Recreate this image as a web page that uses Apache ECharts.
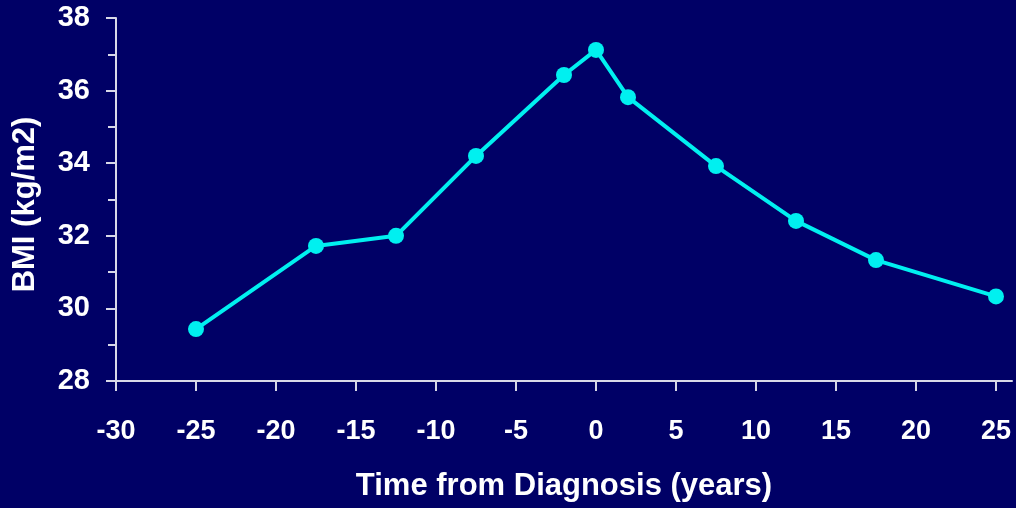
<!DOCTYPE html>
<html><head><meta charset="utf-8">
<script src="https://cdn.jsdelivr.net/npm/echarts@6/dist/echarts.min.js"></script>
<style>html,body{margin:0;padding:0;background:#000066;}#c{width:1016px;height:508px;}</style>
</head><body><div id="c"></div>
<script>
const years = [-25, -17.5, -12.5, -7.5, -2, 0, 2, 7.5, 12.5, 17.5, 25];
const bmi = [29.43, 31.72, 32.0, 34.2, 36.43, 37.12, 35.82, 33.92, 32.41, 31.33, 30.33];
const xTitle = 'Time from Diagnosis (years)';
const yTitle = 'BMI (kg/m2)';

const font = '"Liberation Sans", Arial, sans-serif';
const axisCol = '#d8d8e8';
const chart = echarts.init(document.getElementById('c'));
chart.setOption({
  backgroundColor: '#000066',
  animation: false,
  grid: {left: 116, right: 4, top: 18, bottom: 127, containLabel: false, outerBoundsMode: 'none'},
  xAxis: {
    type: 'value', min: -30, max: 26, interval: 5,
    axisLine: {show: true, onZero: false, lineStyle: {color: axisCol, width: 2}},
    axisTick: {show: true, length: 10, lineStyle: {color: axisCol, width: 2}},
    splitLine: {show: false},
    axisLabel: {color: '#fff', fontSize: 27, fontWeight: 'bold', fontFamily: font, margin: 37,
      showMaxLabel: false,
      formatter: v => (v > 25 ? '' : String(v))},
    name: xTitle, nameLocation: 'middle', nameGap: 90,
    nameTextStyle: {color: '#fff', fontSize: 31, fontWeight: 'bold', fontFamily: font}
  },
  yAxis: {
    type: 'value', min: 28, max: 38, interval: 2,
    axisLine: {show: true, onZero: false, lineStyle: {color: axisCol, width: 2}},
    axisTick: {show: true, length: 10, lineStyle: {color: axisCol, width: 2}},
    minorTick: {show: true, splitNumber: 2, length: 8, lineStyle: {color: axisCol, width: 2}},
    splitLine: {show: false},
    axisLabel: {color: '#fff', fontSize: 29, fontWeight: 'bold', fontFamily: font, margin: 26},
    name: yTitle, nameLocation: 'middle', nameGap: 75,
    nameTextStyle: {color: '#fff', fontSize: 31, fontWeight: 'bold', fontFamily: font, padding: [0, 10, 0, 0]}
  },
  series: [{
    type: 'line',
    data: years.map((x, i) => [x, bmi[i]]),
    symbol: 'circle', symbolSize: 16,
    lineStyle: {color: '#00f0f0', width: 4},
    itemStyle: {color: '#00f0f0'}
  }]
});
</script></body></html>
